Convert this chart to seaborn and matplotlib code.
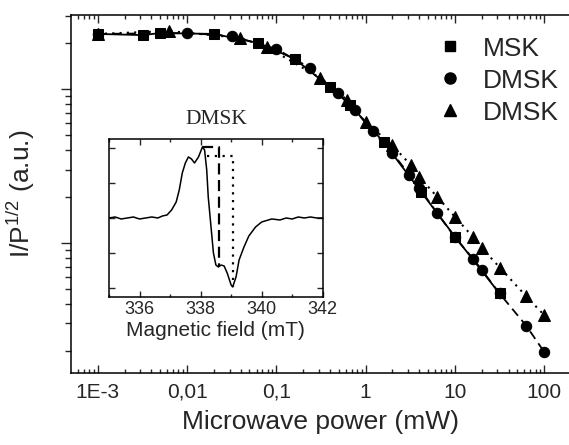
import matplotlib
matplotlib.use('Agg')
import matplotlib.pyplot as plt
from matplotlib.lines import Line2D
from matplotlib.ticker import LogLocator, NullFormatter, FixedLocator, MultipleLocator
import seaborn as sns


#----------------------------------------------------------------------------------------------------
# saturation curves, I/P^1/2 vs microwave power (mW)
power_msk   = [0.001, 0.0032, 0.005, 0.02, 0.063, 0.16, 0.4, 0.67, 1.6, 4.2, 10, 31.6]
msk         = [22.8, 22.4, 23.1, 22.8, 19.9, 15.7, 10.3, 7.9, 4.5, 2.14, 1.1, 0.47]

power_dmsk1 = [0.001, 0.01, 0.032, 0.1, 0.24, 0.49, 0.76, 1.2, 2.0, 3.1, 4.0, 6.3, 10, 16, 20, 31.6, 63, 100]
dmsk1       = [22.8, 23.1, 22.1, 18.2, 13.7, 9.4, 7.3, 5.3, 3.84, 2.77, 2.28, 1.57, 1.09, 0.79, 0.67, 0.47, 0.29, 0.196]

power_dmsk2 = [0.001, 0.0063, 0.039, 0.079, 0.31, 0.62, 1.0, 2.0, 3.2, 4.0, 6.3, 10, 16, 20, 32, 63, 100]
dmsk2       = [22.8, 23.8, 21.5, 18.7, 11.8, 8.5, 6.1, 4.3, 3.21, 2.68, 2.0, 1.48, 1.09, 0.93, 0.69, 0.45, 0.34]

x_ticks      = [1e-3, 1e-2, 1e-1, 1, 10, 100]
x_ticklabels = ['1E-3', '0,01', '0,1', '1', '10', '100']
legend_names = ['MSK', 'DMSK', 'DMSK']

# inset: EPR spectrum of DMSK
field  = [335.0, 335.2, 335.4, 335.6, 335.8, 336.0, 336.2, 336.4, 336.6, 336.75, 336.9, 337.05,
          337.2, 337.3, 337.4, 337.5, 337.6, 337.7, 337.8, 337.93, 338.06, 338.13, 338.2, 338.25,
          338.35, 338.42, 338.5, 338.58, 338.67, 338.77, 338.87, 339.0, 339.05, 339.16, 339.26,
          339.42, 339.58, 339.8, 340.0, 340.33, 340.6, 340.8, 341.0, 341.2, 341.4, 341.6, 341.8, 342.0]
signal = [0, 1, -1, 0, 1, -1, 0, 1, 0, 2, 3, 8,
          16, 28, 45, 55, 61, 59, 55, 61, 71, 68, 48, 21,
          -12, -35, -47, -49, -47, -48, -55, -67, -69, -59, -42,
          -29, -18, -9, -4, -1, -2, 0, -1, 1, 0, 1, 0, 0]

dash_field = [338.06, 338.6, 338.6]
dash_level = [71, 71, -49]
dot_field  = [338.2, 339.05, 339.05]
dot_level  = [62, 62, -69]


#----------------------------------------------------------------------------------------------------
sns.set_style('ticks')
plt.rcParams['font.family'] = ['Liberation Sans', 'DejaVu Sans']
plt.rcParams['mathtext.fontset'] = 'custom'
plt.rcParams['mathtext.rm'] = 'Liberation Sans'

fig = plt.figure(figsize=(5.69, 4.45), dpi=100)
ax = fig.add_axes([0.1248, 0.1618, 1 - 0.1248, 0.8042])

sns.lineplot(x=power_msk, y=msk, ax=ax, color='black', lw=1.3, ls='-',
             marker='s', markersize=7, mec='black', mfc='black', sort=False, estimator=None)
sns.lineplot(x=power_dmsk1, y=dmsk1, ax=ax, color='black', lw=1.3, ls=(0, (5, 3)),
             marker='o', markersize=7.5, mec='black', mfc='black', sort=False, estimator=None)
sns.lineplot(x=power_dmsk2, y=dmsk2, ax=ax, color='black', lw=1.5, ls=(0, (1, 2.5)),
             marker='^', markersize=8, mec='black', mfc='black', sort=False, estimator=None)

ax.set_xscale('log')
ax.set_yscale('log')
ax.set_xlim(5.02e-4, 189.7)
ax.set_ylim(0.143, 30.2)

ax.xaxis.set_major_locator(FixedLocator(x_ticks))
ax.set_xticklabels(x_ticklabels)
ax.xaxis.set_minor_locator(LogLocator(base=10, subs=range(2, 10), numticks=20))
ax.xaxis.set_minor_formatter(NullFormatter())
ax.yaxis.set_major_locator(LogLocator(base=10, numticks=10))
ax.yaxis.set_minor_locator(LogLocator(base=10, subs=range(2, 10), numticks=20))
ax.yaxis.set_major_formatter(NullFormatter())
ax.yaxis.set_minor_formatter(NullFormatter())

ax.tick_params(axis='x', which='both', direction='in', top=True, bottom=True,
               labelsize=15, pad=7, width=1)
ax.tick_params(axis='x', which='major', length=6)
ax.tick_params(axis='x', which='minor', length=3)
ax.tick_params(axis='y', which='both', direction='out', width=1)
ax.tick_params(axis='y', which='major', length=7)
ax.tick_params(axis='y', which='minor', length=4)

for side in ['left', 'top', 'bottom']:
    ax.spines[side].set_linewidth(1.1)
    ax.spines[side].set_color('black')
ax.spines['right'].set_visible(False)

ax.set_xlabel('Microwave power (mW)', fontsize=19, labelpad=6)
ax.set_ylabel('I/P$^{1/2}$ (a.u.)', fontsize=19, labelpad=14)

handles = [
    Line2D([], [], ls='none', marker='s', color='black', markersize=7),
    Line2D([], [], ls='none', marker='o', color='black', markersize=8),
    Line2D([], [], ls='none', marker='^', color='black', markersize=8),
]
ax.legend(handles, legend_names, loc='upper right', bbox_to_anchor=(1.027, 1.006),
          frameon=False, fontsize=19, handlelength=1.0, handletextpad=0.75, labelspacing=0.3)


#----------------------------------------------------------------------------------------------------
ins = fig.add_axes([0.1916, 0.3326, 0.3756, 0.3551])

sns.lineplot(x=field, y=signal, ax=ins, color='black', lw=1.1, sort=False, estimator=None)
sns.lineplot(x=dash_field, y=dash_level, ax=ins, color='black', lw=1.6, ls=(0, (5, 2.5)),
             sort=False, estimator=None)
sns.lineplot(x=dot_field, y=dot_level, ax=ins, color='black', lw=1.6, ls=(0, (1, 2.5)),
             sort=False, estimator=None)

ins.set_xlim(335, 342)
ins.set_ylim(-79, 79)
ins.xaxis.set_major_locator(MultipleLocator(2))
ins.xaxis.set_minor_locator(MultipleLocator(1))
ins.yaxis.set_major_locator(FixedLocator([-70, -35, 0, 35, 70]))
ins.set_yticklabels([])
ins.tick_params(which='both', direction='in', top=True, right=True, labelsize=13, pad=3, width=1)
ins.tick_params(which='major', length=4)
ins.tick_params(which='minor', length=2)
for side in ins.spines:
    ins.spines[side].set_linewidth(1.1)
    ins.spines[side].set_color('black')

ins.set_xlabel('Magnetic field (mT)', fontsize=15, labelpad=2)
ins.set_ylabel('')
ins.text(0.5, 1.095, 'DMSK', transform=ins.transAxes, ha='center', va='baseline',
         fontsize=15.5, family=['Liberation Serif', 'DejaVu Serif'])

fig.savefig('out.png', dpi=100)
